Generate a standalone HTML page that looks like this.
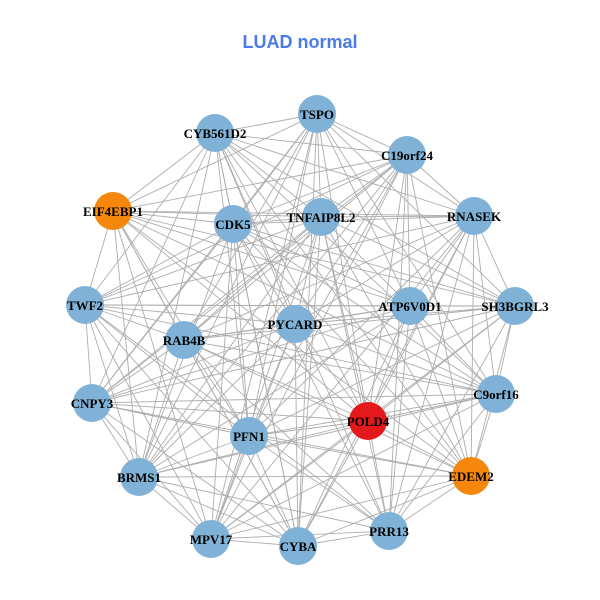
<!DOCTYPE html>
<html><head><meta charset="utf-8"><style>
body{margin:0;background:#fff;width:600px;height:600px;overflow:hidden}
svg{display:block}
text{font-family:"Liberation Serif",serif;font-weight:bold;font-size:13px;fill:#000}
</style></head><body>
<svg id="s" width="600" height="600" viewBox="0 0 600 600">
<text x="300" y="48" text-anchor="middle" style="font-family:'Liberation Sans',sans-serif;font-size:18px;fill:#4a7be8">LUAD normal</text>
<g id="e" stroke="#adadad" stroke-width="0.9"></g>
<g id="n"></g>
<g id="l"></g>
</svg>
<script>
var N=[["TSPO",317,114,"b"],["CYB561D2",215,133,"b"],["C19orf24",407,155,"b"],["EIF4EBP1",113,211,"o"],["CDK5",233,224,"b"],["TNFAIP8L2",321,217,"b"],["RNASEK",474,216,"b"],["TWF2",85,305,"b"],["ATP6V0D1",410,306,"b"],["SH3BGRL3",515,306,"b"],["PYCARD",295,324,"b"],["RAB4B",184,340,"b"],["C9orf16",496,394,"b"],["CNPY3",92,403,"b"],["POLD4",368,421,"r"],["PFN1",249,436,"b"],["BRMS1",139,477,"b"],["EDEM2",471,476,"o"],["MPV17",211,539,"b"],["CYBA",298,546,"b"],["PRR13",389,531,"b"]];
var C={b:"#7fb2d6",o:"#f4870c",r:"#e3191c"};
var ns="http://www.w3.org/2000/svg";
var e=document.getElementById("e"),n=document.getElementById("n"),l=document.getElementById("l");
for(var i=0;i<N.length;i++)for(var j=i+1;j<N.length;j++){
 if(((i*7+j*13)%10)<2)continue;
 var L=document.createElementNS(ns,"line");
 L.setAttribute("x1",N[i][1]);L.setAttribute("y1",N[i][2]);L.setAttribute("x2",N[j][1]);L.setAttribute("y2",N[j][2]);e.appendChild(L);}
N.forEach(function(d){
 var c=document.createElementNS(ns,"circle");c.setAttribute("cx",d[1]);c.setAttribute("cy",d[2]);c.setAttribute("r",19);c.setAttribute("fill",C[d[3]]);n.appendChild(c);
 var t=document.createElementNS(ns,"text");t.setAttribute("x",d[1]);t.setAttribute("y",d[2]+5);t.setAttribute("text-anchor","middle");t.textContent=d[0];l.appendChild(t);});
</script>
</body></html>
